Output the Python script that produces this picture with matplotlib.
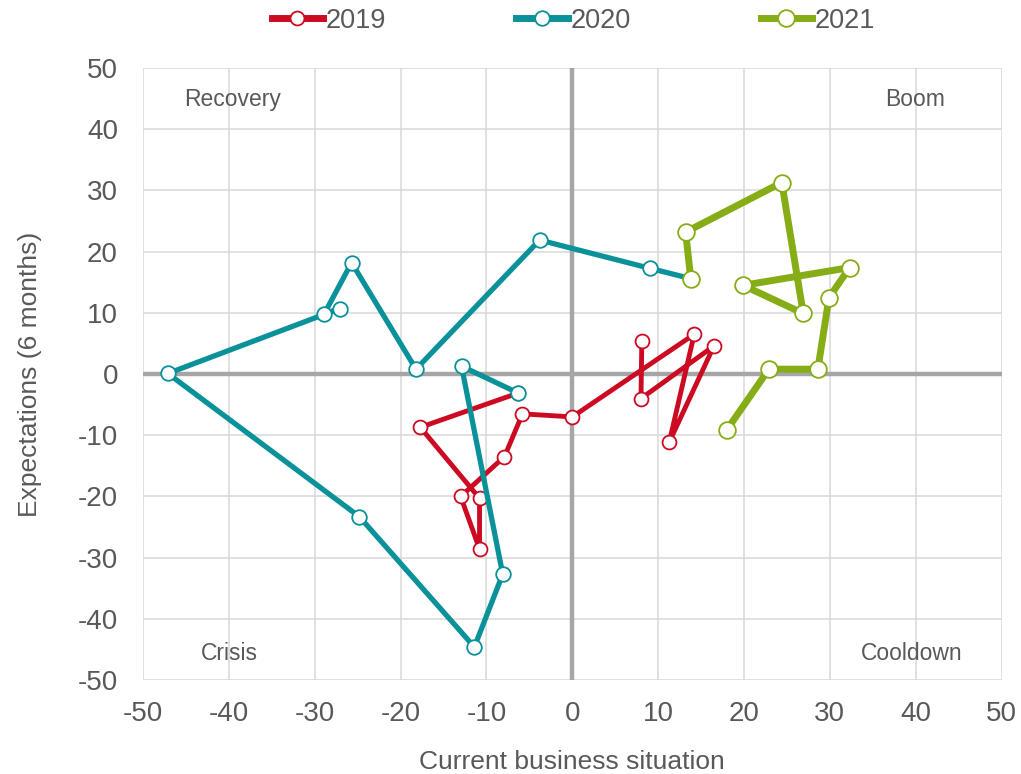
import matplotlib.pyplot as plt

plt.rcParams['font.family'] = ['Liberation Sans', 'DejaVu Sans']
plt.rcParams['axes.unicode_minus'] = False

# current business situation (x) / expectations (y)
x_2019 = [8.1, 8.0, 16.5, 11.3, 14.2, 0.0, -5.8, -7.9, -13.0, -10.8, -10.8, -17.7, -6.3]
y_2019 = [5.4, -4.0, 4.6, -11.1, 6.5, -7.0, -6.5, -13.5, -20.0, -28.6, -20.3, -8.7, -3.1]

x_2020 = [-6.3, -12.9, -8.1, -11.4, -24.8, -47.1, -27.1, -28.9, -25.7, -18.2, -3.8, 9.0, 13.8]
y_2020 = [-3.1, 1.3, -32.7, -44.6, -23.3, 0.1, 10.7, 9.8, 18.2, 0.8, 21.9, 17.3, 15.6]

x_2021 = [13.8, 13.2, 24.4, 26.9, 19.9, 32.3, 29.9, 28.6, 22.9, 18.0]
y_2021 = [15.6, 23.2, 31.3, 9.9, 14.5, 17.4, 12.5, 0.8, 0.8, -9.1]

quadrants = ['Recovery', 'Boom', 'Crisis', 'Cooldown']
quad_x = [-39.6, 39.9, -39.9, 39.5]
quad_y = [44.8, 44.8, -45.6, -45.6]

c_red = '#CC0A22'
c_teal = '#0A9199'
c_green = '#86AC16'
txt = '#595959'

fig = plt.figure(figsize=(10.21, 7.74), dpi=100)
ax = fig.add_axes([0.140, 0.1214, 0.841, 0.7906])

ax.set_xlim(-50, 50)
ax.set_ylim(-50, 50)
ax.set_xticks(range(-50, 51, 10))
ax.set_yticks(range(-50, 51, 10))
ax.set_axisbelow(True)
ax.grid(True, color='#D9D9D9', lw=1.1)
for s in ax.spines.values():
    s.set_visible(False)
ax.tick_params(length=0, labelsize=20, colors=txt)
ax.tick_params(axis='x', pad=15)
ax.tick_params(axis='y', pad=18)
ax.axhline(0, color='#A6A6A6', lw=3.2, zorder=2)
ax.axvline(0, color='#A6A6A6', lw=3.2, zorder=2)

ax.plot(x_2019, y_2019, color=c_red, lw=3.5, marker='o', ms=10,
        mfc='white', mec=c_red, mew=1.3, label='2019', zorder=3)
ax.plot(x_2020, y_2020, color=c_teal, lw=3.8, marker='o', ms=10.5,
        mfc='white', mec=c_teal, mew=1.3, label='2020', zorder=4)
ax.plot(x_2021, y_2021, color=c_green, lw=5, marker='o', ms=12,
        mfc='white', mec=c_green, mew=1.3, label='2021', zorder=5)

for name, qx, qy in zip(quadrants, quad_x, quad_y):
    ax.text(qx, qy, name, ha='center', va='center', fontsize=16.5, color=txt)

ax.set_xlabel('Current business situation', fontsize=19, color=txt, labelpad=17)
ax.set_ylabel('Expectations (6 months)', fontsize=19, color=txt, labelpad=26)

leg = fig.legend(loc='center', bbox_to_anchor=(0.5617, 0.973), ncol=3, frameon=False,
                 fontsize=19.5, handlelength=1.9, handletextpad=0.1, columnspacing=4.8,
                 labelcolor=txt)
for ln in leg.get_lines():
    ln.set_linewidth(5)

fig.savefig('out.png', dpi=100)
